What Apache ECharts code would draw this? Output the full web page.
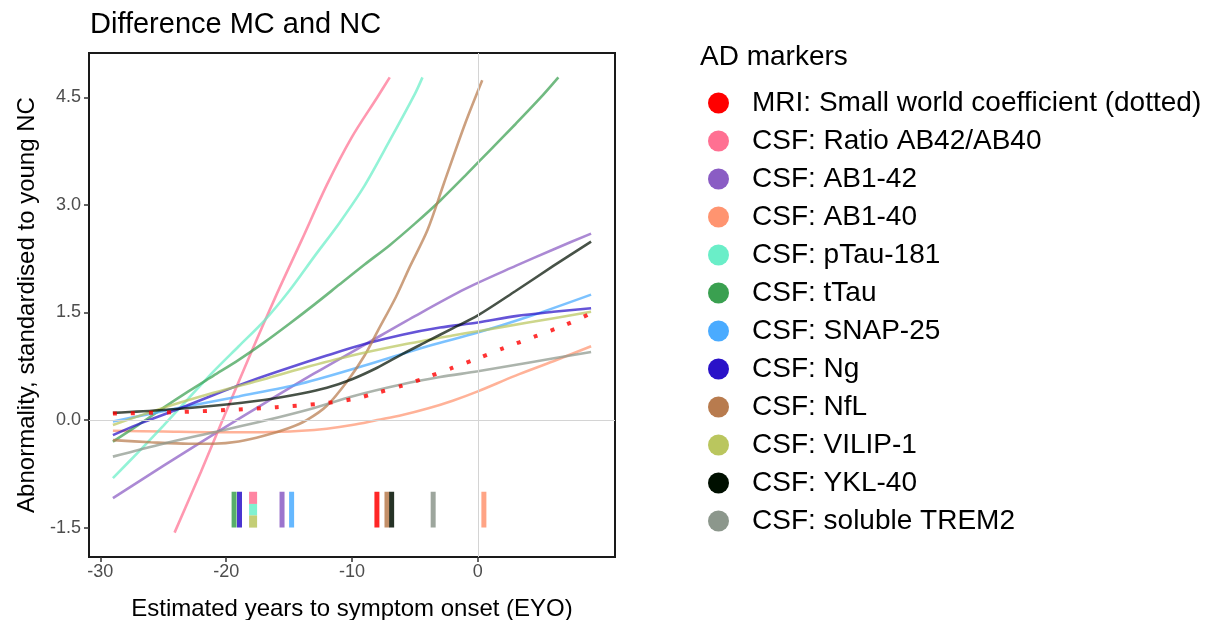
<!DOCTYPE html>
<html>
<head>
<meta charset="utf-8">
<script src="https://cdn.jsdelivr.net/npm/echarts@6/dist/echarts.min.js"></script>
<style>
  html, body { margin: 0; padding: 0; background: #fff; }
  #chart { width: 1215px; height: 620px; }
</style>
</head>
<body>
<div id="chart"></div>
<script>
// marker names in legend order
const markerNames = [
  'MRI: Small world coefficient (dotted)',
  'CSF: Ratio AB42/AB40',
  'CSF: AB1-42',
  'CSF: AB1-40',
  'CSF: pTau-181',
  'CSF: tTau',
  'CSF: SNAP-25',
  'CSF: Ng',
  'CSF: NfL',
  'CSF: VILIP-1',
  'CSF: YKL-40',
  'CSF: soluble TREM2'
];
const markerColors = [
  '#ff0000', '#ff7092', '#8a5cc4', '#ff9470', '#6aeec8', '#3aa050',
  '#4aabff', '#2a12c8', '#b87b4e', '#bac65e', '#000f00', '#8c978c'
];

// fitted curves, [EYO, abnormality]
const mriCurve = [[-29, 0.09], [-24, 0.11], [-20, 0.14], [-16, 0.18], [-12.5, 0.23], [-10, 0.29], [-8, 0.38], [-6, 0.48], [-4, 0.6], [-2, 0.73], [0, 0.86], [2, 1.0], [4.6, 1.17], [7, 1.33], [9, 1.49]];
const ratioCurve = [[-24.1, -1.57], [-22, -0.72], [-20, 0.12], [-18, 0.95], [-16, 1.75], [-14, 2.51], [-12, 3.28], [-10, 3.95], [-8, 4.5], [-7, 4.78]];
const ab42Curve = [[-29, -1.09], [-25, -0.64], [-21, -0.2], [-17, 0.23], [-13, 0.65], [-9, 1.05], [-5, 1.45], [-1, 1.83], [3, 2.15], [6, 2.38], [9, 2.6]];
const ab40Curve = [[-29, -0.15], [-25, -0.16], [-21, -0.17], [-17, -0.17], [-14, -0.15], [-12, -0.12], [-10, -0.07], [-8, 0.0], [-6, 0.07], [-4, 0.16], [-2, 0.27], [0, 0.4], [3, 0.62], [6, 0.82], [9, 1.03]];
const ptauCurve = [[-29, -0.81], [-27, -0.45], [-25, -0.08], [-23, 0.3], [-21, 0.68], [-19, 1.03], [-17, 1.38], [-15, 1.8], [-13, 2.28], [-11, 2.75], [-9, 3.27], [-7, 3.9], [-5, 4.55], [-4.4, 4.78]];
const ttauCurve = [[-29, -0.3], [-27, -0.07], [-25, 0.17], [-23, 0.4], [-21, 0.62], [-19, 0.84], [-17, 1.08], [-15, 1.34], [-13, 1.61], [-11, 1.89], [-9, 2.17], [-7, 2.44], [-5, 2.74], [-3, 3.06], [-1, 3.41], [1, 3.77], [3, 4.13], [5, 4.5], [6.4, 4.78]];
const snapCurve = [[-29, -0.02], [-24, 0.16], [-19, 0.33], [-14, 0.51], [-9, 0.76], [-4, 1.03], [0, 1.22], [4, 1.44], [9, 1.75]];
const ngCurve = [[-29, -0.21], [-27, -0.06], [-24, 0.14], [-21, 0.35], [-18, 0.55], [-15, 0.73], [-12, 0.9], [-9, 1.06], [-6, 1.19], [-3, 1.29], [0, 1.36], [3, 1.45], [6, 1.51], [9, 1.56]];
const nflCurve = [[-29, -0.28], [-26, -0.31], [-23, -0.33], [-21, -0.33], [-19, -0.3], [-17, -0.22], [-15, -0.11], [-13.6, 0.0], [-12, 0.2], [-10.3, 0.56], [-9, 0.9], [-7.9, 1.26], [-6.5, 1.72], [-5.4, 2.14], [-4, 2.65], [-2.7, 3.3], [-1, 4.14], [0.35, 4.74]];
const vilipCurve = [[-29, -0.07], [-25, 0.17], [-21, 0.38], [-17, 0.57], [-14, 0.72], [-10, 0.9], [-6, 1.05], [-2, 1.18], [0, 1.24], [4, 1.36], [9, 1.51]];
const yklCurve = [[-29, 0.1], [-25, 0.14], [-21, 0.2], [-17, 0.28], [-14, 0.37], [-12, 0.45], [-10, 0.57], [-8, 0.73], [-6, 0.92], [-4, 1.1], [-2, 1.28], [0, 1.46], [3, 1.8], [6, 2.15], [9, 2.49]];
const trem2Curve = [[-29, -0.51], [-25, -0.33], [-21, -0.17], [-17, -0.01], [-13, 0.17], [-10, 0.33], [-6, 0.5], [-3, 0.6], [0, 0.68], [4, 0.8], [9, 0.95]];

const curves = [mriCurve, ratioCurve, ab42Curve, ab40Curve, ptauCurve, ttauCurve,
  snapCurve, ngCurve, nflCurve, vilipCurve, yklCurve, trem2Curve];

// estimated onset of abnormality (rug marks at the bottom)
const rugEyo = [-8.02, -17.86, -15.56, 0.48, -17.86, -19.37, -14.8, -18.94, -7.22, -17.86, -6.85, -3.55];
const rugLow = [-1.5, -1.17, -1.5, -1.5, -1.33, -1.5, -1.5, -1.5, -1.5, -1.5, -1.5, -1.5];
const rugHigh = [-1.0, -1.0, -1.0, -1.0, -1.17, -1.0, -1.0, -1.0, -1.0, -1.33, -1.0, -1.0];

const xTicks = [-30, -20, -10, 0];
const yTicks = [-1.5, 0, 1.5, 3, 4.5];

const font = 'Liberation Sans, Arial, sans-serif';

const chart = echarts.init(document.getElementById('chart'));

const series = [];

// zero reference lines
series.push({
  type: 'line',
  data: [],
  z: 1,
  markLine: {
    silent: true,
    symbol: 'none',
    label: { show: false },
    lineStyle: { color: '#d4d4d4', width: 1, type: 'solid' },
    data: [{ xAxis: 0 }, { yAxis: 0 }]
  }
});

curves.forEach((pts, i) => {
  const dotted = i === 0;
  series.push({
    name: markerNames[i],
    type: 'line',
    data: pts,
    smooth: 0.3,
    showSymbol: false,
    symbol: 'none',
    z: dotted ? 4 : 3,
    itemStyle: { color: markerColors[i] },
    lineStyle: dotted
      ? { color: markerColors[i], width: 4, type: [4, 14], cap: 'butt', opacity: 0.8 }
      : { color: markerColors[i], width: 2.6, opacity: 0.72 }
  });
});

rugEyo.forEach((x, i) => {
  const stacked = rugEyo.filter(v => v === x).length > 1;
  series.push({
    name: markerNames[i],
    type: 'line',
    data: [[x, rugLow[i]], [x, rugHigh[i]]],
    showSymbol: false,
    symbol: 'none',
    z: 5,
    itemStyle: { color: markerColors[i] },
    lineStyle: { color: markerColors[i], width: stacked ? 8 : 5, cap: 'butt', opacity: 0.85 }
  });
});

const axisLineStyle = { show: true, onZero: false, lineStyle: { color: '#1a1a1a', width: 2 } };

chart.setOption({
  animation: false,
  backgroundColor: '#fff',
  title: [
    {
      text: 'Difference MC and NC',
      left: 90, top: 10, padding: 0,
      textStyle: { fontSize: 29, fontWeight: 'normal', color: '#000', fontFamily: font }
    },
    {
      text: 'AD markers',
      left: 700, top: 43, padding: 0,
      textStyle: { fontSize: 28, fontWeight: 'normal', color: '#000', fontFamily: font }
    }
  ],
  legend: {
    orient: 'vertical',
    left: 708,
    top: 89,
    itemWidth: 21,
    itemHeight: 21,
    itemGap: 10,
    selectedMode: false,
    padding: 0,
    textStyle: { fontSize: 28, color: '#000', fontFamily: font, padding: [0, 0, 0, 18] },
    data: markerNames.map((n, i) => ({
      name: n,
      icon: 'circle',
      itemStyle: { color: markerColors[i], opacity: 1 }
    }))
  },
  grid: {
    left: 89, right: 600, top: 53, bottom: 63,
    outerBoundsMode: 'none',
    show: true,
    borderColor: '#1a1a1a',
    borderWidth: 2,
    backgroundColor: 'transparent'
  },
  xAxis: {
    type: 'value',
    min: -30.9,
    max: 10.9,
    splitLine: { show: false },
    axisLine: axisLineStyle,
    axisTick: { show: true, inside: false, length: 5, lineStyle: { color: '#333', width: 1.5 }, customValues: xTicks },
    axisLabel: { customValues: xTicks, color: '#4d4d4d', fontSize: 18, margin: 6, fontFamily: font },
    name: 'Estimated years to symptom onset (EYO)',
    nameLocation: 'middle',
    nameGap: 40,
    nameTextStyle: { fontSize: 24, color: '#000', fontFamily: font }
  },
  yAxis: {
    type: 'value',
    min: -1.91,
    max: 5.12,
    splitLine: { show: false },
    axisLine: axisLineStyle,
    axisTick: { show: true, inside: false, length: 5, lineStyle: { color: '#333', width: 1.5 }, customValues: yTicks },
    axisLabel: {
      customValues: yTicks, color: '#4d4d4d', fontSize: 18, margin: 8, fontFamily: font,
      formatter: v => v.toFixed(1)
    },
    name: 'Abnormality, standardised to young NC',
    nameLocation: 'middle',
    nameGap: 50,
    nameRotate: 90,
    nameTextStyle: { fontSize: 24, color: '#000', fontFamily: font }
  },
  series: series
});
</script>
</body>
</html>
